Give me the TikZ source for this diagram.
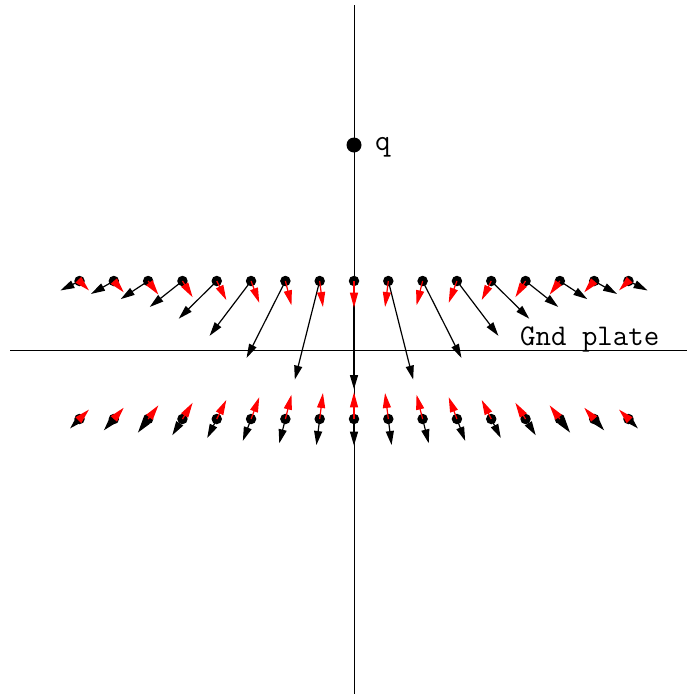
\documentclass[tikz,border=0pt]{standalone}
\usetikzlibrary{arrows.meta}
\begin{document}
\begin{tikzpicture}[x=100pt,y=-100pt,
  dot/.style={circle,fill=black,inner sep=0pt,minimum size=10.5pt},
  qdot/.style={circle,fill=black,inner sep=0pt,minimum size=15pt},
  axis/.style={line width=1pt},
  barrow/.style={line width=1.2pt,-{Triangle[length=14pt,width=8pt]}},
  rarrow/.style={draw=red,fill=red,line width=1.2pt,-{Triangle[length=15pt,width=8pt]}},
  lbl/.style={font=\ttfamily\fontsize{30}{30}\selectfont, inner sep=0pt}]
\useasboundingbox (0,0) rectangle (6.87,6.94);
\coordinate (vtop) at (3.54,0.05);
\coordinate (vbot) at (3.54,6.94);
\coordinate (hl) at (0.10,3.50);
\coordinate (hr) at (6.87,3.50);
\draw[axis] (vtop) -- (vbot);
\draw[axis] (hl) -- (hr);
\node[qdot] (q) at (3.54,1.45) {};
\node[lbl, anchor=base west] (qlbl) at (3.75,1.505) {q};
\node[lbl, anchor=base west] (gnd) at (5.20,3.45) {Gnd plate};
\foreach \j in {0,...,16} {
  \pgfmathsetmacro\px{3.54+0.3431*(\j-8)}
  \pgfmathsetmacro\dx{\px-3.54}
  \pgfmathsetmacro\ra{(\dx*\dx+1.8496)^1.5}
  \pgfmathsetmacro\rb{(\dx*\dx+7.5076)^1.5}
  \pgfmathsetmacro\ubx{2*\dx/\ra}
  \pgfmathsetmacro\uby{2*1.36/\ra}
  \pgfmathsetmacro\urx{-2*\dx/\rb}
  \pgfmathsetmacro\ury{2*2.74/\rb}
  \pgfmathsetmacro\lbx{2*\dx/\rb}
  \pgfmathsetmacro\lby{2*2.74/\rb}
  \node[dot] (u\j) at (\px,2.81) {};
  \node[dot] (l\j) at (\px,4.19) {};
  \path (u\j.center) ++(\ubx,\uby) coordinate (ub\j);
  \path (u\j.center) ++(\urx,\ury) coordinate (ur\j);
  \path (l\j.center) ++(\lbx,\lby) coordinate (lb\j);
  \path (l\j.center) ++(-\lbx,-\lby) coordinate (lr\j);
  \draw[barrow] (u\j.center) -- (ub\j);
  \draw[rarrow] (u\j.center) -- (ur\j);
  \draw[barrow] (l\j.center) -- (lb\j);
  \draw[rarrow] (l\j.center) -- (lr\j);
}
\end{tikzpicture}
\end{document}
